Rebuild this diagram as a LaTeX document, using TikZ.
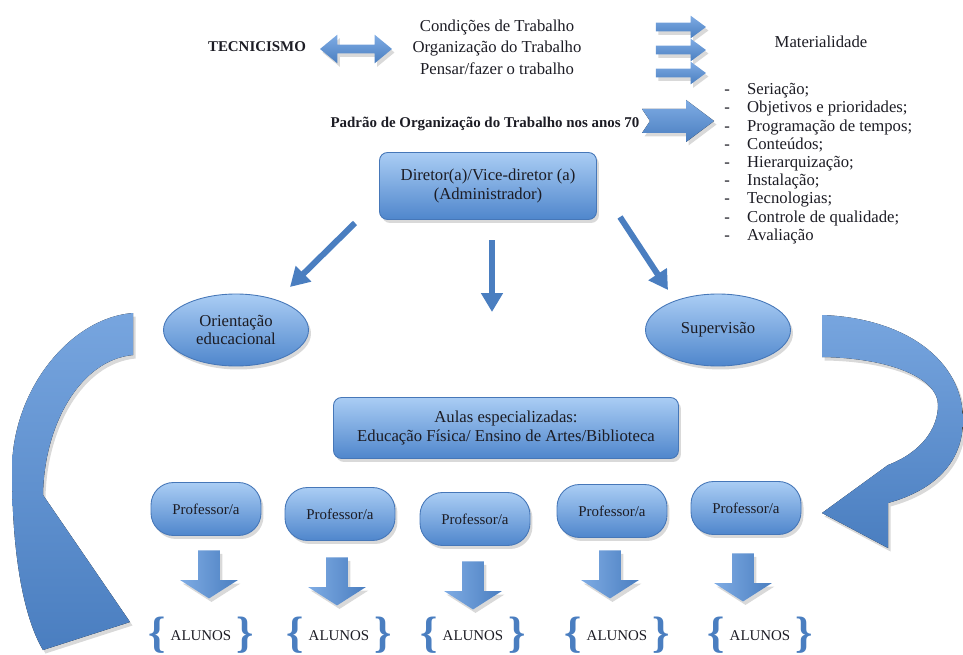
\documentclass[tikz,border=0pt]{standalone}
\usepackage{fontspec}
\setmainfont{Liberation Serif}
\usetikzlibrary{arrows.meta,positioning,shapes.geometric,shapes.arrows,shadows}
\definecolor{boxtop}{HTML}{AACDF4}
\definecolor{boxbot}{HTML}{4F86CC}
\definecolor{boxedge}{HTML}{4677B8}
\definecolor{arrblue}{HTML}{4A7EC0}
\definecolor{arrtop}{HTML}{7FACE4}
\definecolor{txt}{HTML}{1C1C24}
\newcommand{\bracetxt}[1]{\raisebox{-3.6pt}{\color{arrblue}\bfseries
  \fontsize{25}{25}\selectfont#1}}
\tikzset{softshadow/.style={drop shadow={shadow xshift=0.5mm,
    shadow yshift=-0.7mm, opacity=0.3}},
  boxbase/.style={draw=boxedge, line width=0.5pt, top color=boxtop,
    bottom color=boxbot, align=center, inner sep=0pt, softshadow},
  dirbox/.style={boxbase, rounded corners=0.16cm, minimum width=4.34cm,
    minimum height=1.34cm, font=\fontsize{9.5}{10.4}\selectfont},
  aulabox/.style={boxbase, rounded corners=0.16cm, minimum width=6.9cm,
    minimum height=1.22cm, font=\fontsize{9.5}{10.8}\selectfont},
  profbox/.style={boxbase, rounded corners=0.45cm, minimum width=2.2cm,
    minimum height=1.06cm, font=\fontsize{8.5}{10}\selectfont},
  ellbox/.style={boxbase, ellipse, minimum width=2.9cm,
    minimum height=1.44cm, font=\fontsize{9.5}{10}\selectfont},
  dnarrow/.style={single arrow, rotate=-90, minimum height=0.96cm,
    inner xsep=0pt, inner ysep=0.21cm, single arrow head extend=0.36cm,
    single arrow tip angle=115, left color=arrtop, right color=arrblue,
    softshadow},
  rarrow/.style={single arrow, minimum height=1.0cm, inner xsep=0pt,
    inner ysep=0.08cm, single arrow head extend=0.14cm,
    single arrow tip angle=73, top color=arrtop, bottom color=arrblue,
    softshadow},
  dblarrow/.style={double arrow, minimum height=1.44cm, inner xsep=0pt,
    inner ysep=0.08cm, double arrow head extend=0.2cm,
    double arrow tip angle=79, top color=arrtop, bottom color=arrblue,
    softshadow},
  linkarrow/.style={line width=0.12cm, arrblue,
    -{Triangle[width=0.42cm, length=0.38cm]}},
  bigcurve/.style={top color=arrtop!85!arrblue, bottom color=arrblue,
    softshadow},
  plain/.style={font=\fontsize{9.5}{12.2}\selectfont, align=center},
  heading/.style={font=\bfseries\fontsize{8.5}{10}\selectfont},
  alunos/.style={font=\fontsize{8.5}{10}\selectfont, inner sep=0pt}}

\begin{document}
\begin{tikzpicture}[x=0.02cm, y=-0.02cm, every node/.append style={text=txt}]
\useasboundingbox (0,0) rectangle (963,655);
% top line
\node[heading] (tec) at (257,47) {TECNICISMO};
\node[dblarrow] (dbl) at (356,49) {};
\node[plain] (cond) at (497,47)
  {Condições de Trabalho\\Organização do Trabalho\\Pensar/fazer o trabalho};
\foreach \i/\y in {1/27, 2/50, 3/73}
  \node[rarrow] (ra\i) at (678,\y) {};
\node[plain] (mat) at (821,42) {Materialidade};
\node[font=\fontsize{9.5}{10.36}\selectfont, align=left, anchor=north west,
  inner sep=0pt] (lista) at (724,83)
  {\makebox[13pt][l]{-}Seriação;\\
   \makebox[13pt][l]{-}Objetivos e prioridades;\\
   \makebox[13pt][l]{-}Programação de tempos;\\
   \makebox[13pt][l]{-}Conteúdos;\\
   \makebox[13pt][l]{-}Hierarquização;\\
   \makebox[13pt][l]{-}Instalação;\\
   \makebox[13pt][l]{-}Tecnologias;\\
   \makebox[13pt][l]{-}Controle de qualidade;\\
   \makebox[13pt][l]{-}Avaliação};
\node[heading] (padrao) at (485,124)
  {Padrão de Organização do Trabalho nos anos 70};
\fill[top color=arrtop, bottom color=arrblue, softshadow]
  (642,109) -- (686,109) -- (686,100) -- (714,121) -- (686,142)
  -- (686,133) -- (642,133) -- (650,121) -- cycle;
% hierarchy
\node[dirbox] (dir) at (488,186)
  {Diretor(a)/Vice-diretor (a)\\(Administrador)};
\node[ellbox] (ori) at (236,330) {Orientação\\educacional};
\node[ellbox] (sup) at (718,330) {Supervisão};
\coordinate (dirL) at (355,223);
\coordinate (oriT) at (290,287);
\coordinate (dirM) at (492,240);
\coordinate (midT) at (492,312);
\coordinate (dirR) at (620,217);
\coordinate (supT) at (668,290);
\draw[linkarrow] (dirL) -- (oriT);
\draw[linkarrow] (dirM) -- (midT);
\draw[linkarrow] (dirR) -- (supT);
\node[aulabox] (aulas) at (506,428)
  {Aulas especializadas:\\Educação Física/ Ensino de Artes/Biblioteca};
% big curved arrows
\fill[bigcurve] (133,313) .. controls (70,318) and (12,390) .. (12,470)
  .. controls (12,560) and (25,620) .. (43,650) -- (130,622) -- (43,495)
  .. controls (44,425) and (80,360) .. (133,355) -- cycle;
\fill[bigcurve] (822,315) .. controls (905,318) and (963,360) .. (963,420)
  .. controls (963,462) and (935,490) .. (888,503) -- (888,548)
  -- (822,513) -- (888,465) .. controls (922,452) and (938,428) .. (938,405)
  .. controls (938,378) and (890,358) .. (822,357) -- cycle;
% teachers and pupils
\foreach \i/\x/\y in {1/206/509, 2/340/514, 3/475/519, 4/612/511, 5/746/508}
  \node[profbox] (prof\i) at (\x,\y) {Professor/a};
\foreach \i/\x/\y in {1/209/571, 2/337/578, 3/473/582, 4/610/571, 5/743/574}
  \node[dnarrow] (down\i) at (\x,\y) {};
\foreach \i/\x in {1/201, 2/339, 3/473, 4/617, 5/760}
  \node[alunos] (alu\i) at (\x,635)
    {\bracetxt{\{}\hspace{3pt}ALUNOS\hspace{3pt}\bracetxt{\}}};
\end{tikzpicture}
\end{document}
